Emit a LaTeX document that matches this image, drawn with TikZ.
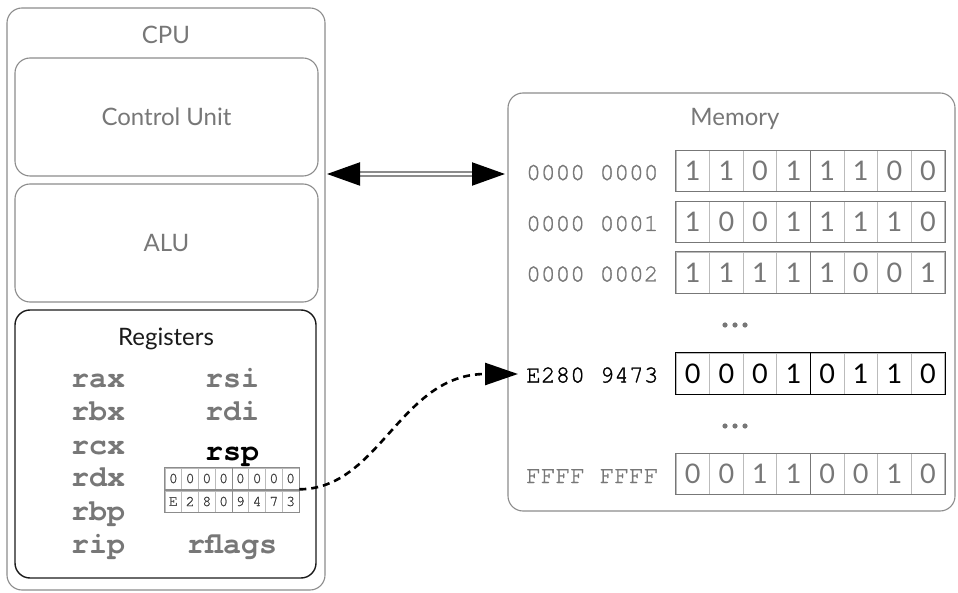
\documentclass[tikz,border=0pt]{standalone}
\usepackage{fontspec}
\setmainfont{Lato}
\IfFontExistsTF{TeX Gyre Cursor}{%
  \newfontfamily\codefont{TeX Gyre Cursor}%
  \newfontfamily\addrfont{TeX Gyre Cursor}[FakeBold=1.2]}{%
  \newfontfamily\codefont{Liberation Mono}%
  \newfontfamily\addrfont{Liberation Mono}}
\usetikzlibrary{arrows.meta}

\definecolor{ink}{HTML}{777777}
\definecolor{edge}{HTML}{8C8C8C}
\definecolor{thin}{HTML}{BBBBBB}
\definecolor{dark}{HTML}{1A1A1A}

\tikzset{
  unitbox/.style={draw=edge, line width=1.1pt, rounded corners=15pt, inner sep=0pt},
  regbox/.style={draw=dark, line width=1.4pt, rounded corners=15pt, inner sep=0pt},
  title/.style={font=\fontsize{24}{24}\selectfont, text=ink, anchor=base, inner sep=0pt},
  regname/.style={font=\codefont\bfseries\fontsize{30}{30}\selectfont, text=ink, anchor=base, inner sep=0pt},
  addr/.style={font=\addrfont\fontsize{24.5}{24.5}\selectfont, anchor=base west, inner sep=0pt},
  bit/.style={draw=thin, line width=0.8pt, minimum width=33.6pt, minimum height=41pt, inner sep=0pt,
    font=\fontsize{27}{27}\selectfont},
  hexcell/.style={draw=thin, line width=0.6pt, minimum width=16.75pt, minimum height=21pt, inner sep=0pt,
    font=\addrfont\fontsize{15}{15}\selectfont, text=dark!85},
  busline/.style={draw=edge, line width=2pt, double=white, double distance=2.6pt,
    {Triangle[length=33pt,width=23pt,color=black]}-{Triangle[length=33pt,width=23pt,color=black]}},
  pointer/.style={draw=black, line width=2.6pt, dash pattern=on 7pt off 5pt,
    -{Triangle[length=33pt,width=22pt]}}
}

\begin{document}
\begin{tikzpicture}[x=1pt,y=-1pt]
\useasboundingbox (0,0) rectangle (958,593);

% CPU and its parts
\node[unitbox, minimum width=318pt, minimum height=582pt] (cpu) at (166,299) {};
\node[title] (cpulabel) at (166,44) {CPU};
\node[unitbox, minimum width=303pt, minimum height=118pt] (cu) at (166.5,117) {};
\node[title] (culabel) at (166.5,126) {Control Unit};
\node[unitbox, minimum width=303pt, minimum height=118pt] (alu) at (166.5,243) {};
\node[title] (alulabel) at (166.5,252) {ALU};
\node[regbox, minimum width=301pt, minimum height=268pt] (regs) at (165.5,444) {};
\node[title, text=dark] (regslabel) at (166,345) {Registers};

% register names
\node[regname] (rax) at (98,387) {rax};
\node[regname] (rbx) at (98,420.7) {rbx};
\node[regname] (rcx) at (98,454) {rcx};
\node[regname] (rdx) at (98,486.7) {rdx};
\node[regname] (rbp) at (98,520) {rbp};
\node[regname] (rip) at (98,553) {rip};
\node[regname] (rsi) at (232,387) {rsi};
\node[regname] (rdi) at (232,420.7) {rdi};
\node[regname, text=black] (rsp) at (232,460) {rsp};
\node[regname] (rflags) at (232,553) {rflags};

% contents of rsp
\foreach \rname/\y/\vals in {rspA/478.5/{0,0,0,0,0,0,0,0}, rspB/501.5/{E,2,8,0,9,4,7,3}} {
  \foreach \v [count=\i] in \vals {
    \node[hexcell] (\rname-\i) at ({165+(\i-0.5)*16.75},\y) {\v};
  }
  \draw[edge, line width=0.9pt] (\rname-1.north west) rectangle (\rname-8.south east);
  \draw[edge, line width=0.9pt] (\rname-4.north east) -- (\rname-4.south east);
}

% memory
\node[unitbox, minimum width=447pt, minimum height=418pt] (mem) at (731.5,302) {};
\node[title] (memlabel) at (735,126) {Memory};

\foreach \rname/\y/\addrtext/\bits/\tone in {
    m0/171/0000 0000/{1,1,0,1,1,1,0,0}/ink,
    m1/222/0000 0001/{1,0,0,1,1,1,1,0}/ink,
    m2/272.5/0000 0002/{1,1,1,1,1,0,0,1}/ink,
    mx/373.5/E280 9473/{0,0,0,1,0,1,1,0}/black,
    mf/474/FFFF FFFF/{0,0,1,1,0,0,1,0}/ink} {
  \node[addr, text=\tone] (\rname-addr) at (526,{\y+9}) {\addrtext};
  \foreach \b [count=\i] in \bits {
    \node[bit, text=\tone] (\rname-\i) at ({676+(\i-0.5)*33.6},\y) {\b};
  }
  \draw[\tone, line width=1.1pt] (\rname-1.north west) rectangle (\rname-8.south east);
  \draw[\tone, line width=1.1pt] (\rname-4.north east) -- (\rname-4.south east);
}

% elided rows
\foreach \yy in {325,426} {
  \foreach \dx in {-10,0,10} {
    \fill[ink] (735+\dx,\yy) circle (2.6pt);
  }
}

% bus between CPU and memory
\coordinate (busL) at (327,174);
\coordinate (busR) at (505,174);
\draw[busline] (busL) -- (busR);

% rsp points into memory
\coordinate (target) at (518,374);
\draw[pointer] (rspA-8.south east) .. controls (380,489) and (400,374) .. (target);
\end{tikzpicture}
\end{document}
